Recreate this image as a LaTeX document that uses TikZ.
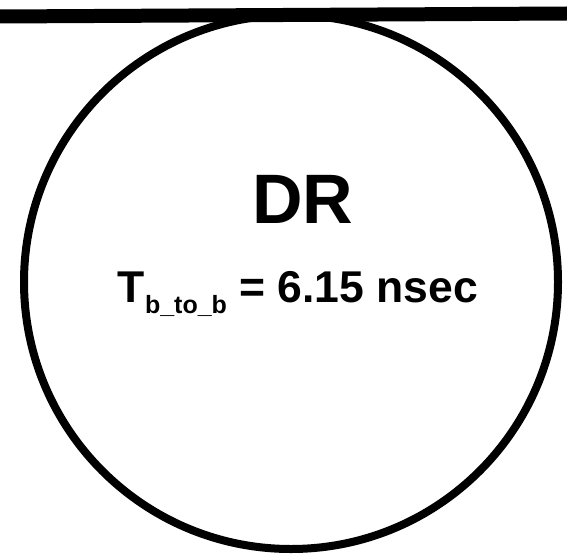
\documentclass[tikz,border=0pt]{standalone}
\usepackage{fontspec}
\setmainfont{Liberation Sans}
\begin{document}
\begin{tikzpicture}[x=1pt,y=-1pt]
\useasboundingbox (0,0) rectangle (567,559);
% Bus line on top
\coordinate (busL) at (0,16.5);
\coordinate (busR) at (567,13.5);
\draw[line width=14pt] (busL) -- (busR);

% Node circle
\node[draw, circle, line width=8pt, minimum size=534pt, inner sep=0pt] (dr) at (291,282) {};

% Labels
\node[anchor=base, font=\bfseries\fontsize{70}{84}\selectfont, inner sep=0pt] (name) at (303,223) {DR};
\node[anchor=base, font=\bfseries\fontsize{44.5}{52}\selectfont, inner sep=0pt] (time) at (298,302)
  {T{\fontsize{25}{30}\selectfont\raisebox{-11pt}{b\_to\_b}} = 6.15 nsec};
\end{tikzpicture}
\end{document}
